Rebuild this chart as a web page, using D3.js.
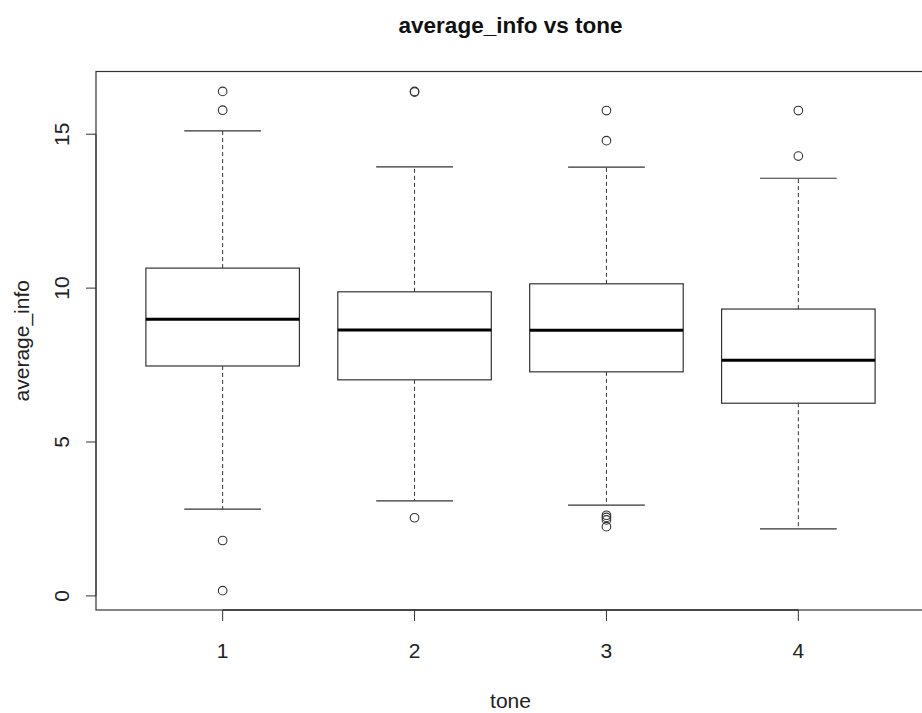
<!DOCTYPE html>
<html><head><meta charset="utf-8">
<script src="https://cdn.jsdelivr.net/npm/d3@7"></script>
<style>body{margin:0;background:#fff;}svg{display:block;font-family:"Liberation Sans",Arial,sans-serif;}</style>
</head><body>
<script>
const categories = ["1","2","3","4"];
const lowerWhisker = [2.82, 3.09, 2.95, 2.18];
const q1 = [7.47, 7.02, 7.28, 6.26];
const median = [8.99, 8.64, 8.63, 7.66];
const q3 = [10.65, 9.88, 10.14, 9.32];
const upperWhisker = [15.11, 13.94, 13.93, 13.57];
const outliers = [
  [16.39, 15.78, 1.80, 0.17],
  [16.39, 16.37, 2.54],
  [15.77, 14.79, 2.62, 2.55, 2.47, 2.25],
  [15.77, 14.29]
];
const yTicks = [0, 5, 10, 15];

(function () {
const W = 922, H = 713;
const svg = d3.select("body").append("svg").attr("width", W).attr("height", H);
const pl = 96, pr = 925, pt = 71.5, pb = 610;

const x = d3.scaleLinear().domain([0.34, 4.66]).range([pl, pr]);
const y = d3.scaleLinear().domain([-0.458, 17.038]).range([pb, pt]);
const stroke = "#333";
const bw = 0.8 * (x(2) - x(1)) / 2;
const fs = 21;

svg.append("rect").attr("x", pl).attr("y", pt).attr("width", pr - pl).attr("height", pb - pt)
  .attr("fill", "none").attr("stroke", stroke).attr("stroke-width", 1.2);

categories.forEach((c, i) => {
  const cx = x(i + 1);
  const g = svg.append("g");
  g.append("line").attr("x1", cx).attr("x2", cx).attr("y1", y(q3[i])).attr("y2", y(upperWhisker[i]))
    .attr("stroke", stroke).attr("stroke-dasharray", "4,3");
  g.append("line").attr("x1", cx).attr("x2", cx).attr("y1", y(q1[i])).attr("y2", y(lowerWhisker[i]))
    .attr("stroke", stroke).attr("stroke-dasharray", "4,3");
  [upperWhisker[i], lowerWhisker[i]].forEach(v => {
    g.append("line").attr("x1", cx - bw / 2).attr("x2", cx + bw / 2).attr("y1", y(v)).attr("y2", y(v))
      .attr("stroke", stroke).attr("stroke-width", 1.2);
  });
  g.append("rect").attr("x", cx - bw).attr("width", 2 * bw).attr("y", y(q3[i])).attr("height", y(q1[i]) - y(q3[i]))
    .attr("fill", "#fff").attr("stroke", stroke).attr("stroke-width", 1.2);
  g.append("line").attr("x1", cx - bw).attr("x2", cx + bw).attr("y1", y(median[i])).attr("y2", y(median[i]))
    .attr("stroke", "#000").attr("stroke-width", 3);
  g.selectAll("circle").data(outliers[i]).join("circle")
    .attr("cx", cx).attr("cy", d => y(d)).attr("r", 4.3)
    .attr("fill", "none").attr("stroke", stroke).attr("stroke-width", 1.1);
});

const yAxis = svg.append("g");
yTicks.forEach(t => {
  yAxis.append("line").attr("x1", pl - 10).attr("x2", pl).attr("y1", y(t)).attr("y2", y(t)).attr("stroke", stroke);
  yAxis.append("text").attr("transform", `translate(69,${y(t)}) rotate(-90)`)
    .attr("text-anchor", "middle").attr("font-size", fs).attr("fill", "#222").text(t);
});
yAxis.append("line").attr("x1", pl).attr("x2", pl).attr("y1", y(yTicks[0])).attr("y2", y(yTicks[yTicks.length - 1])).attr("stroke", stroke);

const xAxis = svg.append("g");
categories.forEach((c, i) => {
  const cx = x(i + 1);
  xAxis.append("line").attr("x1", cx).attr("x2", cx).attr("y1", pb).attr("y2", pb + 11).attr("stroke", stroke);
  xAxis.append("text").attr("x", cx).attr("y", 658).attr("text-anchor", "middle")
    .attr("font-size", fs).attr("fill", "#222").text(c);
});
xAxis.append("line").attr("x1", x(1)).attr("x2", x(4)).attr("y1", pb).attr("y2", pb).attr("stroke", stroke).attr("stroke-width", 1.5);

const midX = (pl + pr) / 2;
svg.append("text").attr("x", midX).attr("y", 33).attr("text-anchor", "middle")
  .attr("font-size", 22.5).attr("font-weight", "bold").attr("fill", "#111").text("average_info vs tone");
svg.append("text").attr("x", midX).attr("y", 708).attr("text-anchor", "middle")
  .attr("font-size", fs).attr("fill", "#222").text("tone");
svg.append("text").attr("transform", `translate(29,${(pt + pb) / 2}) rotate(-90)`).attr("text-anchor", "middle")
  .attr("font-size", fs).attr("fill", "#222").text("average_info");
})();
</script>
</body></html>
